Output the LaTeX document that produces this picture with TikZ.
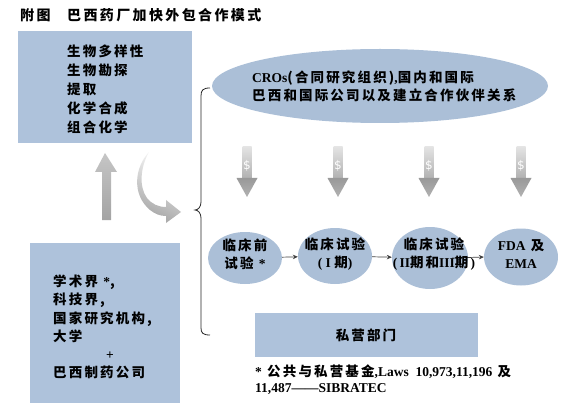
\documentclass[tikz,border=0pt]{standalone}
\usepackage{fontspec}
\setmainfont{Noto Sans CJK SC}[LetterSpace=16]
\newfontfamily\lat{Liberation Serif}
\newfontfamily\dollarfont{DejaVu Sans}
\usetikzlibrary{shapes.geometric,arrows.meta}
\definecolor{boxblue}{RGB}{174,194,219}
\definecolor{ovalblue}{RGB}{171,191,215}
\begin{document}
\begin{tikzpicture}[x=1pt,y=-1pt,
  txt/.style={font=\bfseries\fontsize{13.5}{19}\selectfont, inner sep=0pt, align=left},
  ttl/.style={font=\bfseries\fontsize{14}{19}\selectfont\addfontfeature{LetterSpace=17}, inner sep=0pt, align=left},
  ctxt/.style={font=\bfseries\fontsize{13.5}{18}\selectfont, inner sep=0pt, align=center},
  foot/.style={font=\bfseries\fontsize{13.5}{17}\selectfont, inner sep=0pt, align=left},
  panel/.style={fill=boxblue, draw=none, inner sep=0pt},
  oval/.style={ellipse, fill=ovalblue, draw=none, inner sep=0pt, minimum width=74pt, minimum height=54pt},
  flow/.style={-{Stealth[length=5pt,width=4.5pt]}, draw=black!75, line width=0.7pt},
  bracket/.style={draw=black!85, line width=0.8pt},
  dollar/.style={font=\dollarfont\fontsize{12}{12}\selectfont, text=white, inner sep=0pt}
]
\useasboundingbox (0,0) rectangle (578,414);

% title
\node[ttl, anchor=west] (t1) at (20,15) {附图};
\node[ttl, anchor=west] (t2) at (67,15) {巴西药厂加快外包合作模式};

% top-left box
\node[panel, anchor=north west, minimum width=174pt, minimum height=112pt] (src) at (18,31) {};
\node[txt, anchor=west] (srctxt) at (67,89) {生物多样性\\生物勘探\\提取\\化学合成\\组合化学};

% bottom-left box
\node[panel, anchor=north west, minimum width=150pt, minimum height=160pt] (acad) at (30,243) {};
\node[txt, anchor=west, font=\bfseries\fontsize{13.5}{18.2}\selectfont] (acadtxt) at (53,327)
  {学术界 {\lat *},\\科技界,\\国家研究机构,\\大学\\\hspace*{53pt}{\lat +}\\巴西制药公司};

% up arrow
\shade[top color=gray!45, bottom color=gray!72]
  (105,153) -- (117,172) -- (111,172) -- (111,220) -- (102,220) -- (102,172) -- (95,172) -- cycle;

% curved arrow
\shade[top color=gray!5, bottom color=gray!72, shading angle=-25]
  (149,152) .. controls (134,168) and (132,195) .. (150,210)
  .. controls (155,214) and (160,216) .. (166,216) -- (166,223) -- (181,212) -- (166,200) -- (166,207)
  .. controls (158,207) and (152,204) .. (147,198)
  .. controls (139,187) and (140,168) .. (149,152) -- cycle;

% brace
\coordinate (bt) at (210,88);
\coordinate (bb) at (210,335);
\coordinate (bm) at (195,210);
\draw[bracket] (bt) .. controls (203,88) and (201,90) .. (201,96) -- (201,202)
  .. controls (201,207) and (198,210) .. (bm)
  .. controls (198,210) and (201,213) .. (201,218) -- (201,328)
  .. controls (201,333) and (203,335) .. (bb);

% CRO ellipse
\node[oval, minimum width=336pt, minimum height=74pt] (cro) at (380,86) {};
\node[txt, anchor=west, font=\bfseries\fontsize{13.5}{18}\selectfont] (crotxt) at (252,86)
  {{\lat CROs}(合同研究组织){\lat ,}国内和国际\\巴西和国际公司以及建立合作伙伴关系};

% money arrows
\foreach \x/\n in {247/a,338/b,429/c,521/d}{
  \shade[top color=gray!22, bottom color=gray!62] (\x-4.5,147) rectangle (\x+4.5,179);
  \shade[top color=gray!80, bottom color=gray!60] (\x-10.5,178) -- (\x+10.5,178) -- (\x,197) -- cycle;
  \node[dollar] (d\n) at (\x,166) {\$};
}

% stage ellipses
\node[oval, minimum width=74pt, minimum height=52pt] (pre) at (245,258) {};
\node[oval, minimum width=74pt, minimum height=56pt] (ph1) at (335,256) {};
\node[oval, minimum width=76pt, minimum height=62pt] (ph23) at (430,258) {};
\node[oval, minimum width=74pt, minimum height=57pt] (fda) at (521,257) {};

\draw[flow] (pre) -- (ph1);
\draw[flow] (ph1) -- (ph23);
\draw[flow] (ph23.east) ++(-16,0) coordinate (p3e) -- (fda.west);

\node[ctxt] (pretxt) at (245,254) {临床前\\试验 {\lat *}};
\node[ctxt] (ph1txt) at (335,254) {临床试验\\{\lat (\ I\ }期{\lat )}};
\node[ctxt] (ph23txt) at (434,254) {临床试验\\{\lat (\,II}期和{\lat III}期{\lat \,)}};
\node[ctxt] (fdatxt) at (521,254) {{\lat FDA} 及\\{\lat EMA}};

% private sector
\node[panel, anchor=north west, minimum width=223pt, minimum height=44pt] (priv) at (255,313) {};
\node[txt] (privtxt) at (366,335) {私营部门};

% footnote
\node[foot, anchor=west] (fn1) at (255,372) {{\lat *} 公共与私营基金{\lat ,Laws\ \ 10,973,11,196} 及};
\node[foot, anchor=west] (fn2) at (255,389) {{\lat 11,487——SIBRATEC}};
\end{tikzpicture}
\end{document}
